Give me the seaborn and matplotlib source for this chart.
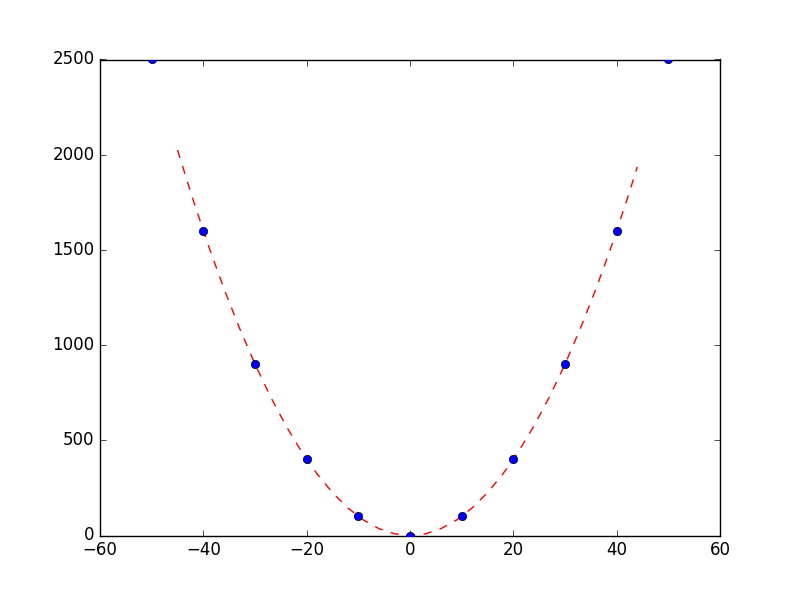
import matplotlib
matplotlib.use("Agg")
import matplotlib.pyplot as plt
import seaborn as sns
import pandas as pd

# Data points (blue markers)
x_points = [-50, -40, -30, -20, -10, 0, 10, 20, 30, 40, 50]
y_points = [2500, 1600, 900, 400, 100, 0, 100, 400, 900, 1600, 2500]

# Dashed red curve
x_curve = [-45, -42, -39, -36, -33, -30, -27, -24, -21, -18, -15, -12, -9, -6, -3, 0,
           3, 6, 9, 12, 15, 18, 21, 24, 27, 30, 33, 36, 39, 42, 44]
y_curve = [2025, 1764, 1521, 1296, 1089, 900, 729, 576, 441, 324, 225, 144, 81, 36, 9, 0,
           9, 36, 81, 144, 225, 324, 441, 576, 729, 900, 1089, 1296, 1521, 1764, 1936]

plt.style.use("classic")
fig, ax = plt.subplots(figsize=(8, 5.95), dpi=100)
fig.patch.set_facecolor("white")

df_curve = pd.DataFrame({"x": x_curve, "y": y_curve})
df_pts = pd.DataFrame({"x": x_points, "y": y_points})

sns.lineplot(data=df_curve, x="x", y="y", ax=ax, color="red", linestyle="--",
             linewidth=1.0, sort=True)
sns.scatterplot(data=df_pts, x="x", y="y", ax=ax, color="blue", edgecolor="black",
                linewidth=0.5, s=36, marker="o", zorder=3)

ax.set_xlim(-60, 60)
ax.set_ylim(0, 2500)
ax.set_xticks([-60, -40, -20, 0, 20, 40, 60])
ax.set_yticks([0, 500, 1000, 1500, 2000, 2500])
ax.set_xlabel("")
ax.set_ylabel("")

fig.savefig("out.png", dpi=100, facecolor="white")
